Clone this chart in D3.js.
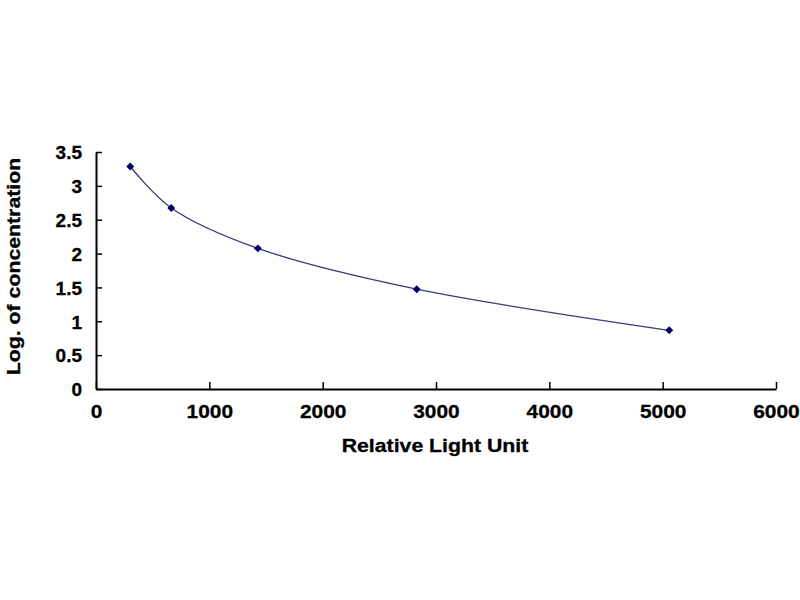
<!DOCTYPE html>
<html>
<head>
<meta charset="utf-8">
<script src="https://cdn.jsdelivr.net/npm/d3@7"></script>
<style>
    body { margin: 0; background: #fff; }
    text { font-family: "Liberation Sans", Arial, sans-serif; font-weight: bold; fill: #000; stroke: #000; stroke-width: 0.3px; }
</style>
</head>
<body>
<div id="chart"></div>
<script>
    // standard curve readings
    let rlu = [302, 664, 1428, 2830, 5058];
    let logConc = [3.286, 2.674, 2.077, 1.474, 0.867];
    let xTicks = [0, 1000, 2000, 3000, 4000, 5000, 6000];
    let yTicks = [0, 0.5, 1, 1.5, 2, 2.5, 3, 3.5];

    let data = rlu.map((d, i) => ({ x: d, y: logConc[i] }));

    let margin = { top: 152, right: 24, bottom: 211, left: 96 };
    let width = 800 - margin.left - margin.right;
    let height = 600 - margin.top - margin.bottom;

    let svg = d3.select("#chart")
        .append("svg")
        .attr("width", 800)
        .attr("height", 600)
        .append("g")
        .attr("transform", `translate(${margin.left}, ${margin.top})`);

    let x = d3.scaleLinear().domain([0, 6000]).range([0, 680]);
    let y = d3.scaleLinear().domain([0, 3.5]).range([height, 0]);

    // x axis, ticks pointing inward
    let xAxis = svg.append("g")
        .attr("transform", `translate(0, ${height})`)
        .call(d3.axisBottom(x).tickValues(xTicks).tickFormat(d => String(d))
            .tickSize(-7).tickSizeOuter(0).tickPadding(16));
    xAxis.select(".domain").attr("stroke-width", 2);
    xAxis.selectAll(".tick line").attr("stroke-width", 1.5);
    xAxis.selectAll(".tick text")
        .style("font-size", "19px")
        .attr("transform", "scale(1.1,1)");

    // y axis
    let yAxis = svg.append("g")
        .call(d3.axisLeft(y).tickValues(yTicks).tickFormat(d => String(d))
            .tickSize(-6).tickSizeOuter(0).tickPadding(14));
    yAxis.select(".domain").attr("stroke-width", 2);
    yAxis.selectAll(".tick line").attr("stroke-width", 1.5);
    yAxis.selectAll(".tick text")
        .style("font-size", "19px")
        .attr("dy", "0.36em");

    // fitted curve
    let line = d3.line()
        .x(d => x(d.x))
        .y(d => y(d.y))
        .curve(d3.curveCatmullRom.alpha(0.5));

    svg.append("path")
        .datum(data)
        .attr("fill", "none")
        .attr("stroke", "#3a3a78")
        .attr("stroke-width", 1.3)
        .attr("d", line);

    svg.selectAll(".pt")
        .data(data)
        .join("path")
        .attr("class", "pt")
        .attr("transform", d => `translate(${x(d.x)}, ${y(d.y)})`)
        .attr("d", d3.symbol(d3.symbolDiamond2, 40))
        .attr("fill", "#000066");

    // axis titles
    svg.append("text")
        .attr("text-anchor", "middle")
        .attr("x", 339)
        .attr("y", height + 63)
        .style("font-size", "19px")
        .attr("transform", `translate(${339 * -0.12}, 0) scale(1.12,1)`)
        .text("Relative Light Unit");

    svg.append("text")
        .attr("text-anchor", "middle")
        .attr("transform", `translate(-76, ${height / 2 - 4}) rotate(-90) scale(1.12,1)`)
        .style("font-size", "19px")
        .text("Log. of concentration");
</script>
</body>
</html>
